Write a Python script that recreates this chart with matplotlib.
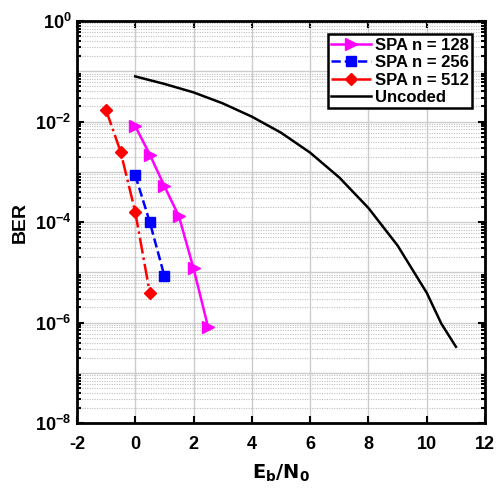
import numpy as np
import matplotlib
matplotlib.use('Agg')
import matplotlib.pyplot as plt
from matplotlib.ticker import LogLocator, NullFormatter, FixedLocator

# Eb/N0 (dB) and BER for each code length
ebn0_128 = [0, 0.5, 1.0, 1.5, 2.0, 2.5]
ber_128 = [8.1e-3, 2.2e-3, 5.2e-4, 1.3e-4, 1.2e-5, 8.1e-7]

ebn0_256 = [0, 0.5, 1.0]
ber_256 = [8.6e-4, 1.0e-4, 8.5e-6]

ebn0_512 = [-1.0, -0.5, 0, 0.5]
ber_512 = [1.7e-2, 2.5e-3, 1.6e-4, 3.9e-6]

ebn0_unc = [0, 1, 2, 3, 4, 5, 6, 7, 8, 9, 10, 10.5, 11]
ber_unc = [7.9e-2, 5.6e-2, 3.8e-2, 2.3e-2, 1.25e-2, 6.0e-3, 2.4e-3,
           7.7e-4, 1.9e-4, 3.4e-5, 3.9e-6, 9.5e-7, 3.3e-7]

labels = ['SPA n = 128', 'SPA n = 256', 'SPA n = 512', 'Uncoded']

plt.rcParams['font.family'] = ['Liberation Sans', 'DejaVu Sans']
plt.rcParams['font.weight'] = 'bold'
plt.rcParams['mathtext.default'] = 'regular'
plt.rcParams['axes.unicode_minus'] = False

fig = plt.figure(figsize=(4.96, 4.88), dpi=100)
ax = fig.add_axes([0.155, 0.133, 0.823, 0.824])

ax.semilogy(ebn0_128, ber_128, '-', color='#ff00ff', marker='>', markersize=8.5,
            linewidth=1.8, label=labels[0])
ax.semilogy(ebn0_256, ber_256, '--', color='#0000ff', marker='s', markersize=6.5,
            linewidth=1.8, label=labels[1])
ax.semilogy(ebn0_512, ber_512, '-.', color='#ff0000', marker='D', markersize=6.5,
            linewidth=1.8, label=labels[2])
ax.semilogy(ebn0_unc, ber_unc, '-', color='black', linewidth=1.8, label=labels[3])

ax.set_xlim(-2, 12)
ax.set_ylim(1e-8, 1)
ax.xaxis.set_major_locator(FixedLocator(np.arange(-2, 13, 2)))
ax.yaxis.set_major_locator(FixedLocator([1e-8, 1e-6, 1e-4, 1e-2, 1]))
ax.yaxis.set_minor_locator(LogLocator(base=10, subs=np.arange(2, 10), numticks=20))
ax.yaxis.set_minor_formatter(NullFormatter())

# major grid at every decade, dotted minor grid between decades
for d in [1e-7, 1e-5, 1e-3, 1e-1]:
    ax.axhline(d, color='#cccccc', linewidth=1.0, zorder=0)
ax.grid(True, which='major', color='#cccccc', linewidth=1.0, zorder=0)
ax.grid(True, which='minor', axis='y', color='#c0c0c0', linestyle=(0, (1, 1.2)),
        linewidth=0.8, zorder=0)
ax.set_axisbelow(True)

ax.tick_params(which='both', direction='in', top=True, right=True, width=1.5,
               labelsize=13)
ax.tick_params(which='major', length=5)
ax.tick_params(which='minor', length=3)
ax.tick_params(axis='x', pad=9)
ax.tick_params(axis='y', pad=4)
for s in ax.spines.values():
    s.set_linewidth(2.0)

ax.set_xlabel(r'$\mathbf{E_b/N_0}$', fontsize=14, labelpad=7)
ax.set_ylabel('BER', fontsize=14, fontweight='bold', labelpad=4)

leg = ax.legend(loc='upper right', fontsize=12, handlelength=2.4,
                fancybox=False, framealpha=1, borderpad=0.2,
                labelspacing=0.15, handletextpad=0.2, borderaxespad=0.8)
leg.get_frame().set_edgecolor('black')
leg.get_frame().set_linewidth(1.8)

fig.savefig('out.png', dpi=100)
